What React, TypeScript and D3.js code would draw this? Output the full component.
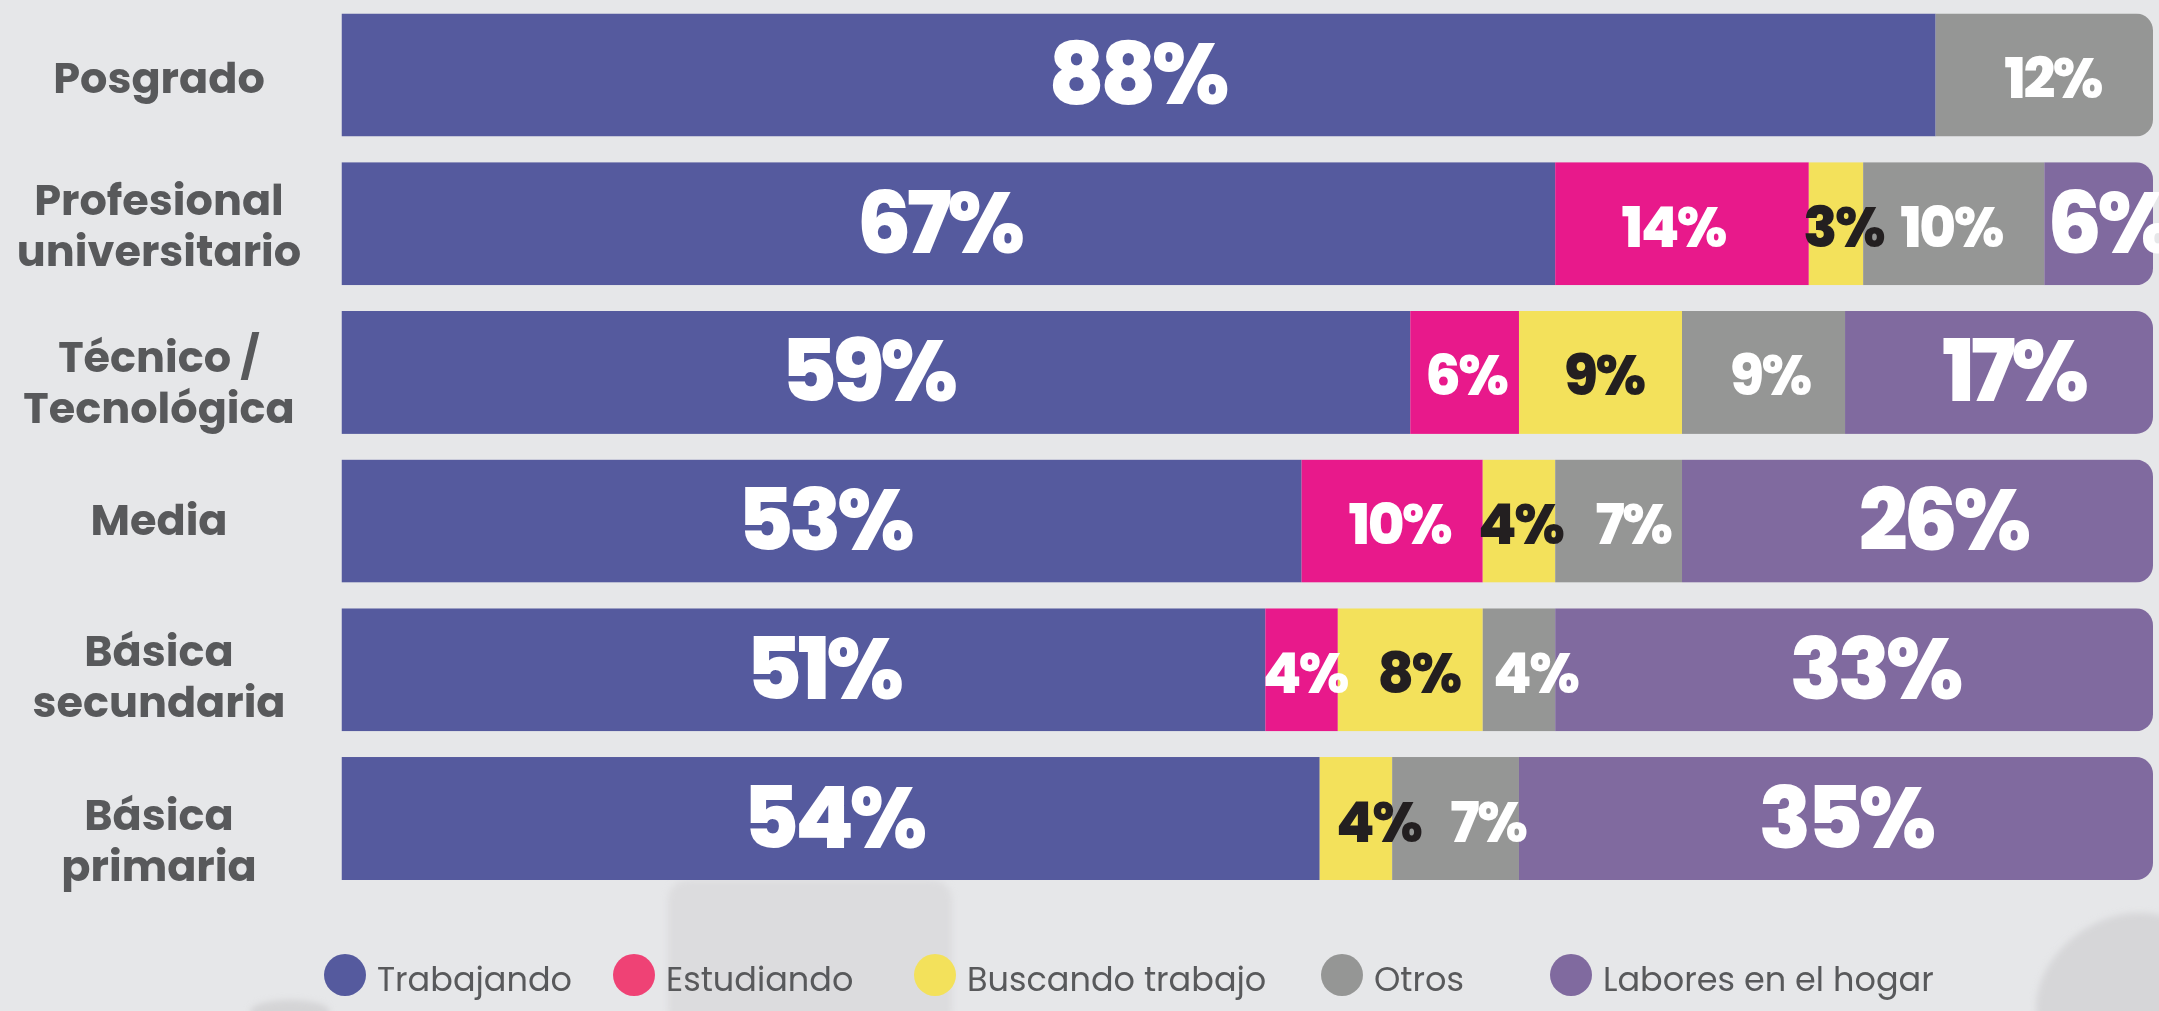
import React from "react";
import * as d3 from "d3";

// ---- data ----
const categories = [
  "Posgrado",
  "Profesional universitario",
  "Técnico / Tecnológica",
  "Media",
  "Básica secundaria",
  "Básica primaria",
];
const categoryLines = [
  ["Posgrado"],
  ["Profesional", "universitario"],
  ["Técnico /", "Tecnológica"],
  ["Media"],
  ["Básica", "secundaria"],
  ["Básica", "primaria"],
];
const seriesNames = ["Trabajando", "Estudiando", "Buscando trabajo", "Otros", "Labores en el hogar"];
const trabajando = [88, 67, 59, 53, 51, 54];
const estudiando = [0, 14, 6, 10, 4, 0];
const buscando = [0, 3, 9, 4, 8, 4];
const otros = [12, 10, 9, 7, 4, 7];
const labores = [0, 6, 17, 26, 33, 35];

// ---- styles / layout ----
const W = 2159;
const H = 1011;
const BG = "#E6E7E9";
const barColors = ["#555A9E", "#E8198B", "#F3E15B", "#959695", "#806A9F"];
const legendColors = ["#555A9E", "#EF4275", "#F3E15B", "#959695", "#806A9F"];
const labelColors = ["#FFFFFF", "#FFFFFF", "#231F20", "#FFFFFF", "#FFFFFF"];
const labelBig = [true, false, false, false, true];
const legendX = [345, 634, 935, 1342, 1571];
const catNudge = [3, 1, 10, -2, 6, 21];
// horizontal nudges of value labels (hand placed in the original), per row / series
const labelNudge = [
  [-4, 0, 0, 7, 0],
  [-12, -10, 6, -4, 8],
  [-11, 0, 2, 5, 12],
  [0, 6, 0, 13, 23],
  [17, 2, 7, 15, 18],
  [0, 0, 21, 31, 7],
];
const TEXT_GRAY = "#58595B";
const FONT = "Poppins, Inter, 'Noto Sans', sans-serif";

export default function App() {
  const seriesValues = [trabajando, estudiando, buscando, otros, labores];
  const rows = categories.map((c, i) => {
    const r: any = { cat: c };
    seriesNames.forEach((s, k) => (r[s] = seriesValues[k][i]));
    return r;
  });
  const stacked = d3.stack<any>().keys(seriesNames)(rows);

  const x = d3.scaleLinear().domain([0, 100]).range([341.5, 2153]);
  const y = d3
    .scaleBand<string>()
    .domain(categories)
    .range([13.5, 880])
    .paddingInner(0.173)
    .paddingOuter(0);
  const bw = y.bandwidth();
  const R = 17;

  const clipPath = (cat: string) => {
    const x0 = x(0);
    const x1 = x(100);
    const y0 = y(cat)!;
    const y1 = y0 + bw;
    return `M${x0},${y0}H${x1 - R}A${R},${R} 0 0 1 ${x1},${y0 + R}V${y1 - R}A${R},${R} 0 0 1 ${x1 - R},${y1}H${x0}Z`;
  };

  return (
    <svg
      width={W}
      height={H}
      viewBox={`0 0 ${W} ${H}`}
      style={{ position: "absolute", left: 0, top: 0, display: "block" }}
    >
      <defs>
        {categories.map((c, i) => (
          <clipPath id={`rowclip${i}`} key={c}>
            <path d={clipPath(c)} />
          </clipPath>
        ))}
        <filter id="blur" x="-50%" y="-50%" width="200%" height="200%">
          <feGaussianBlur stdDeviation="3" />
        </filter>
      </defs>
      <rect x={0} y={0} width={W} height={H} fill={BG} />
      {/* faint background decorations */}
      <g filter="url(#blur)">
        <rect x={668} y={880} width={284} height={150} rx={20} fill="#DCDCDE" />
        <ellipse
          cx={2120}
          cy={990}
          rx={90}
          ry={70}
          transform="rotate(-35 2120 990)"
          fill="#D6D6D8"
        />
        <ellipse cx={290} cy={1012} rx={40} ry={12} fill="#D4D4D6" />
      </g>

      {/* bars */}
      {categories.map((c, i) => (
        <g key={c} clipPath={`url(#rowclip${i})`}>
          {stacked.map((s, k) => {
            const d = s[i];
            if (d[1] - d[0] <= 0) return null;
            return (
              <rect
                key={s.key}
                x={x(d[0])}
                y={y(c)!}
                width={x(d[1]) - x(d[0])}
                height={bw}
                fill={barColors[k]}
              />
            );
          })}
        </g>
      ))}

      {/* value labels */}
      {categories.map((c, i) => (
        <g key={c + "-lab"}>
          {stacked.map((s, k) => {
            const d = s[i];
            const v = d[1] - d[0];
            if (v <= 0) return null;
            const big = labelBig[k];
            const cy = y(c)! + bw / 2;
            const ls = big ? -4.5 : -2.5;
            return (
              <text
                key={s.key}
                x={(x(d[0]) + x(d[1])) / 2 + labelNudge[i][k] - ls / 2}
                y={cy + (big ? 29 : 23)}
                textAnchor="middle"
                fontFamily={FONT}
                fontWeight={800}
                fontSize={big ? 86 : 56}
                letterSpacing={ls}
                fill={labelColors[k]}
              >
                {`${v}%`}
              </text>
            );
          })}
        </g>
      ))}

      {/* category labels */}
      {categories.map((c, i) => {
        const lines = categoryLines[i];
        const cy = y(c)! + bw / 2 + catNudge[i];
        const gap = 51;
        const first = cy + 15.5 - ((lines.length - 1) * gap) / 2;
        return (
          <g key={c + "-cat"}>
            {lines.map((l, j) => (
              <text
                key={j}
                x={159}
                y={first + j * gap}
                textAnchor="middle"
                fontFamily={FONT}
                fontWeight={700}
                fontSize={43}
                fill={TEXT_GRAY}
              >
                {l}
              </text>
            ))}
          </g>
        );
      })}

      {/* legend */}
      {seriesNames.map((s, k) => (
        <g key={s + "-leg"}>
          <circle cx={legendX[k]} cy={975} r={21} fill={legendColors[k]} />
          <text
            x={legendX[k] + 32}
            y={991}
            fontFamily={FONT}
            fontWeight={400}
            fontSize={33.5}
            fill={TEXT_GRAY}
          >
            {s}
          </text>
        </g>
      ))}
    </svg>
  );
}
